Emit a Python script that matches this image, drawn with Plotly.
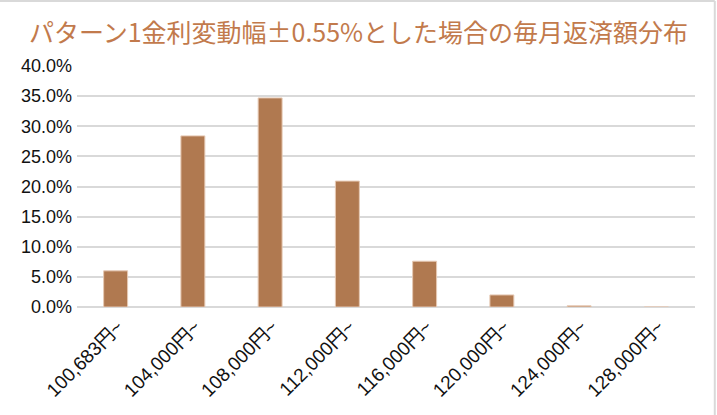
import plotly.graph_objects as go

categories = ["100,683円~", "104,000円~", "108,000円~", "112,000円~",
              "116,000円~", "120,000円~", "124,000円~", "128,000円~"]
shares = [0.060, 0.284, 0.347, 0.209, 0.076, 0.020, 0.002, 0.0]
title_text = "パターン1金利変動幅±0.55%とした場合の毎月返済額分布"

fig = go.Figure(go.Bar(
    x=categories, y=shares,
    marker=dict(color="#b07950", line=dict(color="#e6c9b4", width=1)),
    hoverinfo="x+y",
))

fig.update_layout(
    width=717, height=415,
    margin=dict(l=77, r=22, t=66, b=108),
    paper_bgcolor="white", plot_bgcolor="white",
    bargap=0.69,
    showlegend=False,
    title=dict(text=title_text, x=0.5, xanchor="center", y=0.92, yanchor="middle",
               font=dict(family="Noto Sans CJK JP", size=25, color="#c27a4c")),
    font=dict(family="Liberation Sans, Arial", size=16, color="#111111"),
    xaxis=dict(tickangle=-45, showgrid=False, showline=False, ticks="", automargin=False,
               ticklabelshift=2, ticklabelstandoff=4,
               tickfont=dict(family="Liberation Sans, Noto Sans CJK JP", size=19, color="#111111")),
    yaxis=dict(range=[0, 0.40], dtick=0.05, tickformat=".1%", showgrid=True, automargin=False,
               gridcolor="#d9d9d9", gridwidth=1.5, zeroline=True, zerolinecolor="#d9d9d9",
               zerolinewidth=1.5, showline=False, ticks="", ticklen=0, ticklabelstandoff=4,
               tickfont=dict(family="Liberation Sans, Arial", size=18, color="#111111")),
    shapes=[
        dict(type="line", xref="paper", yref="paper", x0=-0.2, x1=1.032, y0=1.27, y1=1.27,
             line=dict(color="#d9d9d9", width=2)),
        dict(type="line", xref="paper", yref="paper", x0=1.032, x1=1.032, y0=-0.5, y1=1.27,
             line=dict(color="#d9d9d9", width=2)),
    ],
)

fig.write_html("out.html", config={"displayModeBar": False},
               post_script="document.body.style.margin='0px';")
